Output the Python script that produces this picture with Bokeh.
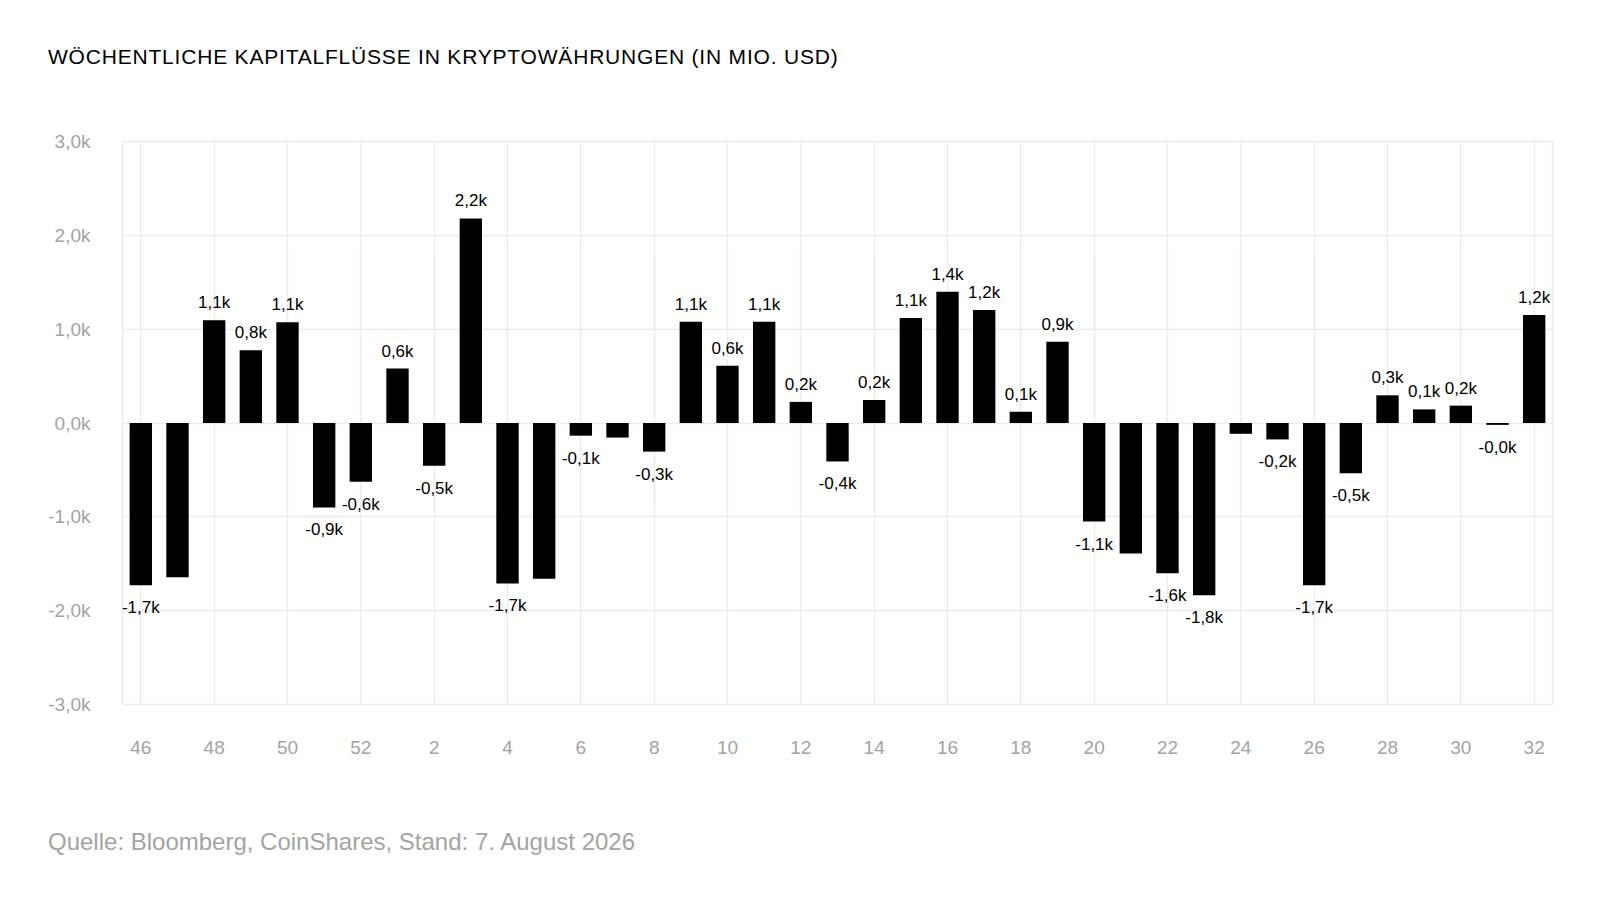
from bokeh.plotting import figure
from bokeh.models import ColumnDataSource, Range1d, FixedTicker, Div
from bokeh.layouts import column
from bokeh.core.properties import value
from bokeh.embed import file_html
from bokeh.resources import INLINE

# ---- data ----
weeks = [46, 47, 48, 49, 50, 51, 52, 1, 2, 3, 4, 5, 6, 7, 8, 9, 10, 11, 12, 13,
         14, 15, 16, 17, 18, 19, 20, 21, 22, 23, 24, 25, 26, 27, 28, 29, 30, 31, 32]
flows = [-1730, -1645, 1095, 775, 1075, -900, -625, 580, -455, 2180, -1710, -1660,
         -135, -155, -305, 1080, 610, 1080, 225, -410, 245, 1120, 1400, 1205, 120,
         865, -1050, -1390, -1600, -1835, -115, -175, -1730, -535, 295, 145, 185,
         -20, 1150]
bar_labels = ["-1,7k", "", "1,1k", "0,8k", "1,1k", "-0,9k", "-0,6k", "0,6k", "-0,5k",
              "2,2k", "-1,7k", "", "-0,1k", "", "-0,3k", "1,1k", "0,6k", "1,1k", "0,2k",
              "-0,4k", "0,2k", "1,1k", "1,4k", "1,2k", "0,1k", "0,9k", "-1,1k", "",
              "-1,6k", "-1,8k", "", "-0,2k", "-1,7k", "-0,5k", "0,3k", "0,1k", "0,2k",
              "-0,0k", "1,2k"]
y_ticks = [-3000, -2000, -1000, 0, 1000, 2000, 3000]
y_tick_labels = ["-3,0k", "-2,0k", "-1,0k", "0,0k", "1,0k", "2,0k", "3,0k"]

title_text = "WÖCHENTLICHE KAPITALFLÜSSE IN KRYPTOWÄHRUNGEN (IN MIO. USD)"
source_text = "Quelle: Bloomberg, CoinShares, Stand: 7. August 2026"

idx = list(range(len(weeks)))
offsets = [-17.5 if v >= 0 else 22.5 for v in flows]
src = ColumnDataSource(dict(x=idx, top=flows, label=bar_labels, yoff=offsets))

W = 1584
title_div = Div(text=title_text, width=1500, height=28, margin=(43, 0, 0, 48),
                styles={"font-family": "Liberation Sans", "font-size": "21px",
                        "letter-spacing": "0.8px", "color": "black",
                        "line-height": "28px", "white-space": "nowrap"})

p = figure(width=W, height=689, output_backend="svg", toolbar_location=None,
           x_range=Range1d(-0.5, len(weeks) - 0.5), y_range=Range1d(-3000, 3000),
           min_border_left=122, min_border_right=32, min_border_top=70,
           min_border_bottom=56, margin=(0, 0, 0, 0))
p.background_fill_color = "white"
p.border_fill_color = "white"
p.outline_line_color = "#ececec"
p.outline_line_width = 1.5

p.vbar(x="x", top="top", bottom=0, width=0.61, source=src,
       fill_color="black", line_color=None)

p.text(x="x", y="top", text="label", y_offset="yoff", source=src,
       text_align="center", text_baseline="middle", text_color="black",
       text_font=value("Liberation Sans"), text_font_size="17px")

xt = idx[::2]
p.xaxis.ticker = FixedTicker(ticks=xt)
p.xaxis.major_label_overrides = {i: str(weeks[i]) for i in xt}
p.yaxis.ticker = FixedTicker(ticks=y_ticks)
p.yaxis.major_label_overrides = {t: l for t, l in zip(y_ticks, y_tick_labels)}

for ax in (p.xaxis, p.yaxis):
    ax.axis_line_color = None
    ax.major_tick_line_color = None
    ax.minor_tick_line_color = None
    ax.major_label_text_color = "#a3a3a3"
    ax.major_label_text_font = "Liberation Sans"
p.xaxis.major_label_text_font_size = "19px"
p.yaxis.major_label_text_font_size = "19px"
p.xaxis.major_label_standoff = 30
p.yaxis.major_label_standoff = 26

p.xgrid.ticker = FixedTicker(ticks=xt)
p.ygrid.ticker = FixedTicker(ticks=y_ticks)
for g in (p.xgrid, p.ygrid):
    g.grid_line_color = "#ececec"
    g.grid_line_width = 1.5

source_div = Div(text=source_text, width=1500, height=28, margin=(68, 0, 0, 48),
                 styles={"font-family": "Liberation Sans", "font-size": "24px",
                         "color": "#a3a3a3", "line-height": "28px",
                         "white-space": "nowrap"})

layout = column(title_div, p, source_div, spacing=0)
open("out.html", "w").write(file_html(layout, INLINE))
